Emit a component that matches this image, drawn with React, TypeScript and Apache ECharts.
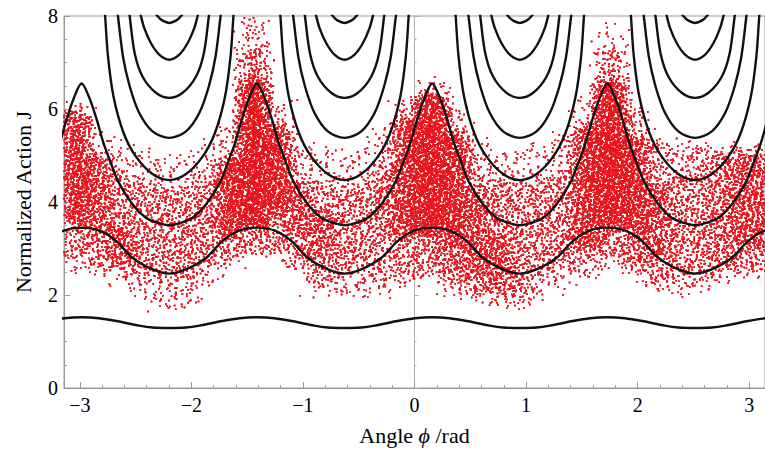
import React, { useEffect, useRef } from "react";
import * as echarts from "echarts";

// ---- axis ticks ----
const xTickValues = [-3, -2, -1, 0, 1, 2, 3];
const xMinorTickValues = [-2.8, -2.6, -2.4, -2.2, -1.8, -1.6, -1.4, -1.2, -0.8, -0.6, -0.4, -0.2, 0.2, 0.4, 0.6, 0.8, 1.2, 1.4, 1.6, 1.8, 2.2, 2.4, 2.6, 2.8];

// ---- black level curves ----
// angles of the minima of the curves (one resonance cell lies between two neighbours)
const minPhis = [-3.769, -2.198, -0.627, 0.944, 2.515, 4.086];
// open U-shaped curves above the separatrix: offset from a minimum (rad) and J
const u1Offset = [0, 0.15, 0.3, 0.41, 0.5, 0.55, 0.575, 0.595];
const u1J = [4.47, 4.6, 4.98, 5.49, 6.27, 7.15, 8.0, 8.6];
const u2Offset = [0, 0.15, 0.27, 0.355, 0.415, 0.46, 0.48];
const u2J = [5.38, 5.52, 5.92, 6.49, 7.13, 8.0, 8.4];
const u3Offset = [0, 0.12, 0.24, 0.31, 0.355, 0.37];
const u3J = [6.24, 6.35, 6.7, 7.2, 8.0, 8.3];
const u4Offset = [0, 0.09, 0.165, 0.224, 0.254, 0.27];
const u4J = [7.06, 7.17, 7.42, 7.74, 8.0, 8.2];
const u5Offset = [0, 0.06, 0.106, 0.13];
const u5J = [7.85, 7.9, 8.0, 8.1];
// continuous curves: offset from a minimum up to the peak (half cell) and J
const sepOffset = [0, 0.1, 0.21, 0.33, 0.46, 0.53, 0.59, 0.65, 0.71, 0.785];
const sepJ = [3.5, 3.55, 3.66, 3.95, 4.45, 4.88, 5.27, 5.77, 6.2, 6.55];
const c2Offset = [0, 0.15, 0.33, 0.475, 0.62, 0.785];
const c2J = [2.46, 2.55, 2.8, 3.16, 3.38, 3.45];
const c1Offset = [0, 0.15, 0.27, 0.475, 0.63, 0.785];
const c1J = [1.29, 1.3, 1.34, 1.44, 1.5, 1.52];

// ---- red scatter cloud: density level (0-9) read per angle column, as [Jlow, Jhigh, level] bands ----
const cloudColumnPhi = [-3.04, -2.84, -2.64, -2.44, -2.24, -2.04, -1.84, -1.64, -1.44, -1.24, -1.04, -0.84, -0.64, -0.44, -0.24, -0.04, 0.16, 0.36, 0.56, 0.76, 0.96, 1.16, 1.36, 1.56, 1.76, 1.96, 2.16, 2.36, 2.56, 2.76, 2.96, 3.16];
const cloudColumnWidth = 0.2;
// dots per pixel² for each density level
const levelDotsPerPx = [0, 0.015, 0.035, 0.06, 0.09, 0.13, 0.18, 0.26, 0.4, 0.55];
const cloudBands: number[][][] = [
  [[2.5, 2.8, 2], [2.8, 3.6, 5], [3.6, 5.9, 8], [5.9, 6.1, 3]],
  [[2.4, 2.6, 2], [2.6, 3.3, 5], [3.3, 5.0, 7], [5.0, 5.5, 2]],
  [[2.2, 2.6, 2], [2.6, 3.5, 7], [3.5, 4.6, 5], [4.6, 5.3, 2]],
  [[1.9, 2.3, 2], [2.3, 4.4, 5], [4.4, 5.2, 2]],
  [[1.7, 2.4, 3], [2.4, 4.3, 5], [4.3, 5.0, 2]],
  [[1.8, 2.3, 3], [2.3, 4.3, 5], [4.3, 5.0, 2]],
  [[2.2, 2.6, 2], [2.6, 4.6, 5], [4.6, 5.3, 2]],
  [[2.6, 2.8, 2], [2.8, 3.3, 5], [3.3, 4.9, 8], [4.9, 5.7, 3]],
  [[2.9, 3.5, 5], [3.5, 6.6, 9], [6.6, 7.3, 6], [7.3, 8.0, 3]],
  [[2.9, 3.8, 5], [3.8, 5.6, 8], [5.6, 6.2, 3]],
  [[2.5, 2.6, 2], [2.6, 3.3, 5], [3.3, 4.4, 7], [4.4, 5.2, 3]],
  [[2.0, 2.2, 2], [2.2, 2.8, 5], [2.8, 3.8, 7], [3.8, 4.5, 4], [4.5, 5.2, 2]],
  [[2.0, 2.5, 3], [2.5, 4.3, 5], [4.3, 5.1, 2]],
  [[2.0, 2.6, 3], [2.6, 4.4, 5], [4.4, 5.2, 2]],
  [[2.0, 2.3, 2], [2.3, 3.2, 4], [3.2, 4.8, 6], [4.8, 5.6, 3]],
  [[2.2, 2.4, 2], [2.4, 3.3, 5], [3.3, 5.8, 8], [5.8, 6.2, 4]],
  [[2.3, 2.5, 2], [2.5, 3.3, 5], [3.3, 6.3, 9], [6.3, 6.6, 3]],
  [[2.0, 2.3, 3], [2.3, 3.0, 6], [3.0, 5.5, 8], [5.5, 6.0, 3]],
  [[1.9, 2.0, 2], [2.0, 2.4, 5], [2.4, 4.2, 7], [4.2, 5.0, 4], [5.0, 5.3, 2]],
  [[1.8, 2.1, 4], [2.1, 3.3, 7], [3.3, 4.5, 5], [4.5, 5.1, 2]],
  [[1.7, 2.0, 3], [2.0, 4.4, 5], [4.4, 5.2, 2]],
  [[2.0, 2.4, 2], [2.4, 4.5, 5], [4.5, 5.3, 2]],
  [[2.2, 2.6, 2], [2.6, 4.6, 5], [4.6, 5.5, 3]],
  [[2.4, 3.0, 4], [3.0, 5.6, 8], [5.6, 6.2, 3]],
  [[2.8, 3.5, 5], [3.5, 6.6, 9], [6.6, 7.3, 5], [7.3, 7.8, 2]],
  [[2.5, 2.6, 2], [2.6, 3.4, 6], [3.4, 5.4, 8], [5.4, 6.0, 4]],
  [[2.2, 2.8, 5], [2.8, 4.4, 7], [4.4, 5.3, 4]],
  [[2.0, 2.4, 3], [2.4, 4.6, 5], [4.6, 5.3, 3]],
  [[2.1, 2.4, 3], [2.4, 4.6, 5], [4.6, 5.2, 4]],
  [[2.3, 2.6, 3], [2.6, 5.0, 6], [5.0, 5.2, 3]],
  [[2.4, 2.5, 2], [2.5, 3.0, 5], [3.0, 5.0, 7], [5.0, 5.2, 4]],
  [[2.4, 2.5, 2], [2.5, 3.0, 5], [3.0, 5.0, 7], [5.0, 5.2, 4]],
];

// ---- builders ----
function buildU(center: number, offs: number[], js: number[]) {
  const pts: number[][] = [];
  for (let i = offs.length - 1; i > 0; i--) pts.push([center - offs[i], js[i]]);
  for (let i = 0; i < offs.length; i++) pts.push([center + offs[i], js[i]]);
  return pts;
}
function buildPeriodic(offs: number[], js: number[]) {
  const pts: number[][] = [];
  for (let k = 0; k < minPhis.length - 1; k++) {
    const c = minPhis[k];
    const n = minPhis[k + 1];
    for (let i = 0; i < offs.length; i++) pts.push([c + offs[i], js[i]]);
    for (let i = offs.length - 2; i > 0; i--) pts.push([n - offs[i], js[i]]);
  }
  pts.push([minPhis[minPhis.length - 1], js[0]]);
  return pts;
}
// radical inverse (Halton) used only to spread the stipple dots of a density band
function halton(i: number, base: number) {
  let f = 1;
  let r = 0;
  while (i > 0) {
    f /= base;
    r += f * (i % base);
    i = Math.floor(i / base);
  }
  return r;
}
function buildCloud(pxPerRad: number, pxPerJ: number) {
  const pts: number[][] = [];
  let idx = 17;
  cloudBands.forEach((bands, k) => {
    const c = cloudColumnPhi[k];
    bands.forEach(([lo, hi, lvl]) => {
      const areaPx = cloudColumnWidth * pxPerRad * (hi - lo) * pxPerJ;
      const n = Math.round(levelDotsPerPx[lvl] * areaPx);
      for (let i = 0; i < n; i++) {
        idx++;
        const x = c + (halton(idx, 2) + halton(idx, 5) - 1) * cloudColumnWidth;
        const y = lo + (hi - lo) * halton(idx, 3) + (halton(idx, 7) - 0.5) * 0.2;
        pts.push([x, y]);
      }
    });
  });
  return pts;
}

const SERIF = "Liberation Serif, Times New Roman, DejaVu Serif, serif";
const AXIS_GRAY = "#9a9a9a";

export default function App() {
  const ref = useRef<HTMLDivElement>(null);
  useEffect(() => {
    if (!ref.current) return;
    const chart = echarts.init(ref.current, undefined, { renderer: "svg" });
    const lineBase = {
      type: "line" as const,
      showSymbol: false,
      smooth: 0.3,
      silent: true,
      clip: true,
      z: 3,
      lineStyle: { color: "#111", width: 2.4 },
    };
    const series: any[] = [
      {
        type: "scatter",
        data: buildCloud(113, 46.6),
        large: true,
        largeThreshold: 500,
        symbol: "rect",
        symbolSize: 1.5,
        itemStyle: { color: "#ea131b" },
        silent: true,
        z: 2,
      },
      { ...lineBase, data: buildPeriodic(c1Offset, c1J) },
      { ...lineBase, data: buildPeriodic(c2Offset, c2J) },
      { ...lineBase, data: buildPeriodic(sepOffset, sepJ) },
    ];
    const uSets = [
      [u1Offset, u1J],
      [u2Offset, u2J],
      [u3Offset, u3J],
      [u4Offset, u4J],
      [u5Offset, u5J],
    ];
    for (let k = 1; k < minPhis.length - 1; k++) {
      uSets.forEach(([o, j]) => series.push({ ...lineBase, data: buildU(minPhis[k], o, j) }));
    }
    const minusFmt = (v: number) => (v < 0 ? "\u2212" + Math.abs(v) : String(v));
    chart.setOption({
      animation: false,
      backgroundColor: "#fff",
      textStyle: { fontFamily: SERIF },
      grid: { left: 64, top: 16, right: -9, bottom: 62, show: true, borderColor: AXIS_GRAY, borderWidth: 1 },
      xAxis: [
        {
          type: "value",
          min: -Math.PI,
          max: Math.PI,
          position: "bottom",
          axisLine: { onZero: false, lineStyle: { color: AXIS_GRAY, width: 1 } },
          axisTick: { inside: true, length: 6, customValues: xTickValues, lineStyle: { color: AXIS_GRAY } },
          axisLabel: { customValues: xTickValues, formatter: minusFmt, color: "#000", fontFamily: SERIF, fontSize: 20, margin: 7 },
          splitLine: { show: false },
          name: "Angle {i|\u03D5} /rad",
          nameLocation: "middle",
          nameGap: 36,
          nameTextStyle: { color: "#000", fontFamily: SERIF, fontSize: 22, rich: { i: { fontStyle: "italic", fontFamily: SERIF, fontSize: 22, color: "#000" } } },
        },
        {
          type: "value",
          min: -Math.PI,
          max: Math.PI,
          position: "bottom",
          axisLine: { show: false, onZero: false },
          axisTick: { inside: true, length: 3, customValues: xMinorTickValues, lineStyle: { color: AXIS_GRAY } },
          axisLabel: { show: false },
          splitLine: { show: false },
        },
      ],
      yAxis: [
        {
          type: "value",
          min: 0,
          max: 8,
          interval: 2,
          position: "left",
          axisLine: { show: true, onZero: false, lineStyle: { color: AXIS_GRAY, width: 1 } },
          axisTick: { inside: true, length: 6, lineStyle: { color: AXIS_GRAY } },
          minorTick: { show: true, splitNumber: 4, length: 3, lineStyle: { color: AXIS_GRAY } },
          axisLabel: { color: "#000", fontFamily: SERIF, fontSize: 20, margin: 6 },
          splitLine: { show: false },
          name: "Normalized Action J",
          nameLocation: "middle",
          nameGap: 30,
          nameRotate: 90,
          nameTextStyle: { color: "#000", fontFamily: SERIF, fontSize: 22 },
        },
        {
          type: "value",
          min: 0,
          max: 8,
          interval: 2,
          position: "left",
          axisLine: { show: true, onZero: true, onZeroAxisIndex: 0, lineStyle: { color: "#b0b0b0", width: 1 } },
          axisTick: { inside: true, length: 4, lineStyle: { color: "#b0b0b0" } },
          minorTick: { show: true, splitNumber: 4, length: 2, lineStyle: { color: "#b0b0b0" } },
          axisLabel: { show: false },
          splitLine: { show: false },
        },
      ],
      series,
    });
    return () => chart.dispose();
  }, []);
  return <div ref={ref} style={{ position: "fixed", left: 0, top: 0, width: 765, height: 451 }} />;
}
